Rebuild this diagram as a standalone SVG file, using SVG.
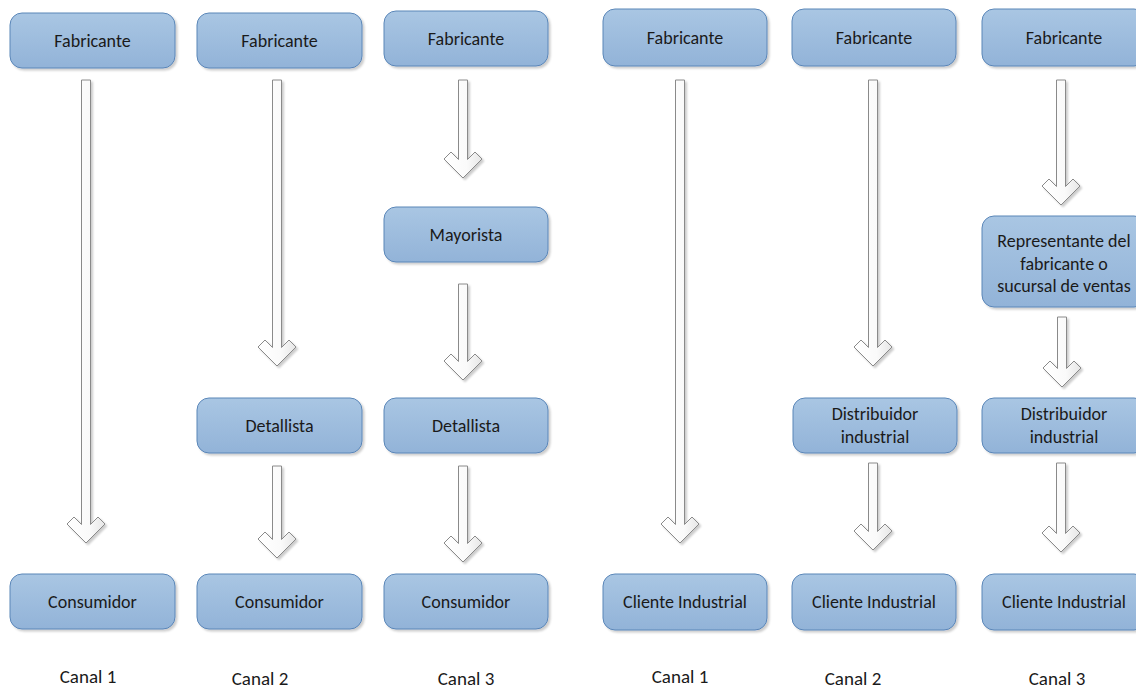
<svg xmlns="http://www.w3.org/2000/svg" width="1136" height="690" viewBox="0 0 1136 690">
  <defs>
    <linearGradient id="boxFill" x1="0" y1="0" x2="0" y2="1">
      <stop offset="0" stop-color="#a9c6e3"/>
      <stop offset="1" stop-color="#92b3d8"/>
    </linearGradient>
    <linearGradient id="arrowFill" x1="0" y1="0" x2="1" y2="0">
      <stop offset="0" stop-color="#ffffff"/>
      <stop offset="0.6" stop-color="#fafafa"/>
      <stop offset="1" stop-color="#e6e6e6"/>
    </linearGradient>
    <filter id="shadow" x="-10%" y="-10%" width="130%" height="140%">
      <feDropShadow dx="2" dy="2" stdDeviation="1.3" flood-color="#000000" flood-opacity="0.2"/>
    </filter>
  </defs>
  <style>
    .box { fill: url(#boxFill); stroke: #5a86b8; stroke-width: 1; filter: url(#shadow); }
    .lbl { font-family: Carlito, Lato, "Open Sans", sans-serif; font-size: 18px; fill: #1a1a1a; text-anchor: middle; }
    .canal { font-family: Carlito, Lato, "Open Sans", sans-serif; font-size: 19px; fill: #1a1a1a; text-anchor: middle; }
    .arrow { fill: url(#arrowFill); stroke: #8a8a8a; stroke-width: 1; stroke-linejoin: miter; filter: url(#shadow); }
  </style>

  <rect width="1136" height="690" fill="#ffffff"/>

  <!-- connectors: hollow block arrows -->
  <g id="connectors">
    <path class="arrow" d="M81.5,80 H90.5 V524.5 L98,517 L105,524 L86,543 L67,524 L74,517 L81.5,524.5 Z"/>
    <path class="arrow" d="M272.5,80 H281.5 V347.5 L289,340 L296,347 L277,366 L258,347 L265,340 L272.5,347.5 Z"/>
    <path class="arrow" d="M272.5,466 H281.5 V539.5 L289,532 L296,539 L277,558 L258,539 L265,532 L272.5,539.5 Z"/>
    <path class="arrow" d="M458.5,80 H467.5 V159.5 L475,152 L482,159 L463,178 L444,159 L451,152 L458.5,159.5 Z"/>
    <path class="arrow" d="M458.5,284 H467.5 V361.5 L475,354 L482,361 L463,380 L444,361 L451,354 L458.5,361.5 Z"/>
    <path class="arrow" d="M458.5,466 H467.5 V543.5 L475,536 L482,543 L463,562 L444,543 L451,536 L458.5,543.5 Z"/>
    <path class="arrow" d="M675.5,80 H684.5 V524.5 L692,517 L699,524 L680,543 L661,524 L668,517 L675.5,524.5 Z"/>
    <path class="arrow" d="M868.5,80 H877.5 V347.5 L885,340 L892,347 L873,366 L854,347 L861,340 L868.5,347.5 Z"/>
    <path class="arrow" d="M868.5,463 H877.5 V531.5 L885,524 L892,531 L873,550 L854,531 L861,524 L868.5,531.5 Z"/>
    <path class="arrow" d="M1056.5,80 H1065.5 V186.5 L1073,179 L1080,186 L1061,205 L1042,186 L1049,179 L1056.5,186.5 Z"/>
    <path class="arrow" d="M1057.5,317 H1066.5 V368.5 L1074,361 L1081,368 L1062,387 L1043,368 L1050,361 L1057.5,368.5 Z"/>
    <path class="arrow" d="M1056.5,463 H1065.5 V533.5 L1073,526 L1080,533 L1061,552 L1042,533 L1049,526 L1056.5,533.5 Z"/>
  </g>

  <!-- consumer channels -->
  <g id="c1-fabricante"><rect class="box" x="10" y="13" width="165" height="55" rx="12"/><text class="lbl" x="92.5" y="46.5">Fabricante</text></g>
  <g id="c1-consumidor"><rect class="box" x="10" y="574" width="165" height="55" rx="12"/><text class="lbl" x="92.5" y="607.5">Consumidor</text></g>

  <g id="c2-fabricante"><rect class="box" x="197" y="13" width="165" height="55" rx="12"/><text class="lbl" x="279.5" y="46.5">Fabricante</text></g>
  <g id="c2-detallista"><rect class="box" x="197" y="398" width="165" height="55" rx="12"/><text class="lbl" x="279.5" y="431.5">Detallista</text></g>
  <g id="c2-consumidor"><rect class="box" x="197" y="574" width="165" height="55" rx="12"/><text class="lbl" x="279.5" y="607.5">Consumidor</text></g>

  <g id="c3-fabricante"><rect class="box" x="384" y="11" width="164" height="55" rx="12"/><text class="lbl" x="466" y="44.5">Fabricante</text></g>
  <g id="c3-mayorista"><rect class="box" x="384" y="207" width="164" height="55" rx="12"/><text class="lbl" x="466" y="240.5">Mayorista</text></g>
  <g id="c3-detallista"><rect class="box" x="384" y="398" width="164" height="55" rx="12"/><text class="lbl" x="466" y="431.5">Detallista</text></g>
  <g id="c3-consumidor"><rect class="box" x="384" y="574" width="164" height="55" rx="12"/><text class="lbl" x="466" y="607.5">Consumidor</text></g>

  <!-- industrial channels -->
  <g id="i1-fabricante"><rect class="box" x="603" y="9" width="164" height="57" rx="12"/><text class="lbl" x="685" y="43.5">Fabricante</text></g>
  <g id="i1-cliente"><rect class="box" x="603" y="574" width="164" height="56" rx="12"/><text class="lbl" x="685" y="607.5">Cliente Industrial</text></g>

  <g id="i2-fabricante"><rect class="box" x="792" y="9" width="164" height="57" rx="12"/><text class="lbl" x="874" y="43.5">Fabricante</text></g>
  <g id="i2-distribuidor"><rect class="box" x="793" y="398" width="164" height="55" rx="12"/><text class="lbl" x="875" y="420">Distribuidor</text><text class="lbl" x="875" y="443">industrial</text></g>
  <g id="i2-cliente"><rect class="box" x="792" y="574" width="164" height="56" rx="12"/><text class="lbl" x="874" y="607.5">Cliente Industrial</text></g>

  <g id="i3-fabricante"><rect class="box" x="982" y="9" width="164" height="57" rx="12"/><text class="lbl" x="1064" y="43.5">Fabricante</text></g>
  <g id="i3-representante"><rect class="box" x="982" y="216" width="164" height="91" rx="12"/><text class="lbl" x="1064" y="247">Representante del</text><text class="lbl" x="1064" y="270">fabricante o</text><text class="lbl" x="1064" y="292">sucursal de ventas</text></g>
  <g id="i3-distribuidor"><rect class="box" x="982" y="398" width="164" height="55" rx="12"/><text class="lbl" x="1064" y="420">Distribuidor</text><text class="lbl" x="1064" y="443">industrial</text></g>
  <g id="i3-cliente"><rect class="box" x="982" y="574" width="164" height="56" rx="12"/><text class="lbl" x="1064" y="607.5">Cliente Industrial</text></g>

  <!-- channel captions -->
  <g id="captions">
    <text class="canal" x="88" y="683">Canal 1</text>
    <text class="canal" x="260" y="685">Canal 2</text>
    <text class="canal" x="466" y="685">Canal 3</text>
    <text class="canal" x="680" y="683">Canal 1</text>
    <text class="canal" x="853" y="685">Canal 2</text>
    <text class="canal" x="1057" y="685">Canal 3</text>
  </g>
</svg>
